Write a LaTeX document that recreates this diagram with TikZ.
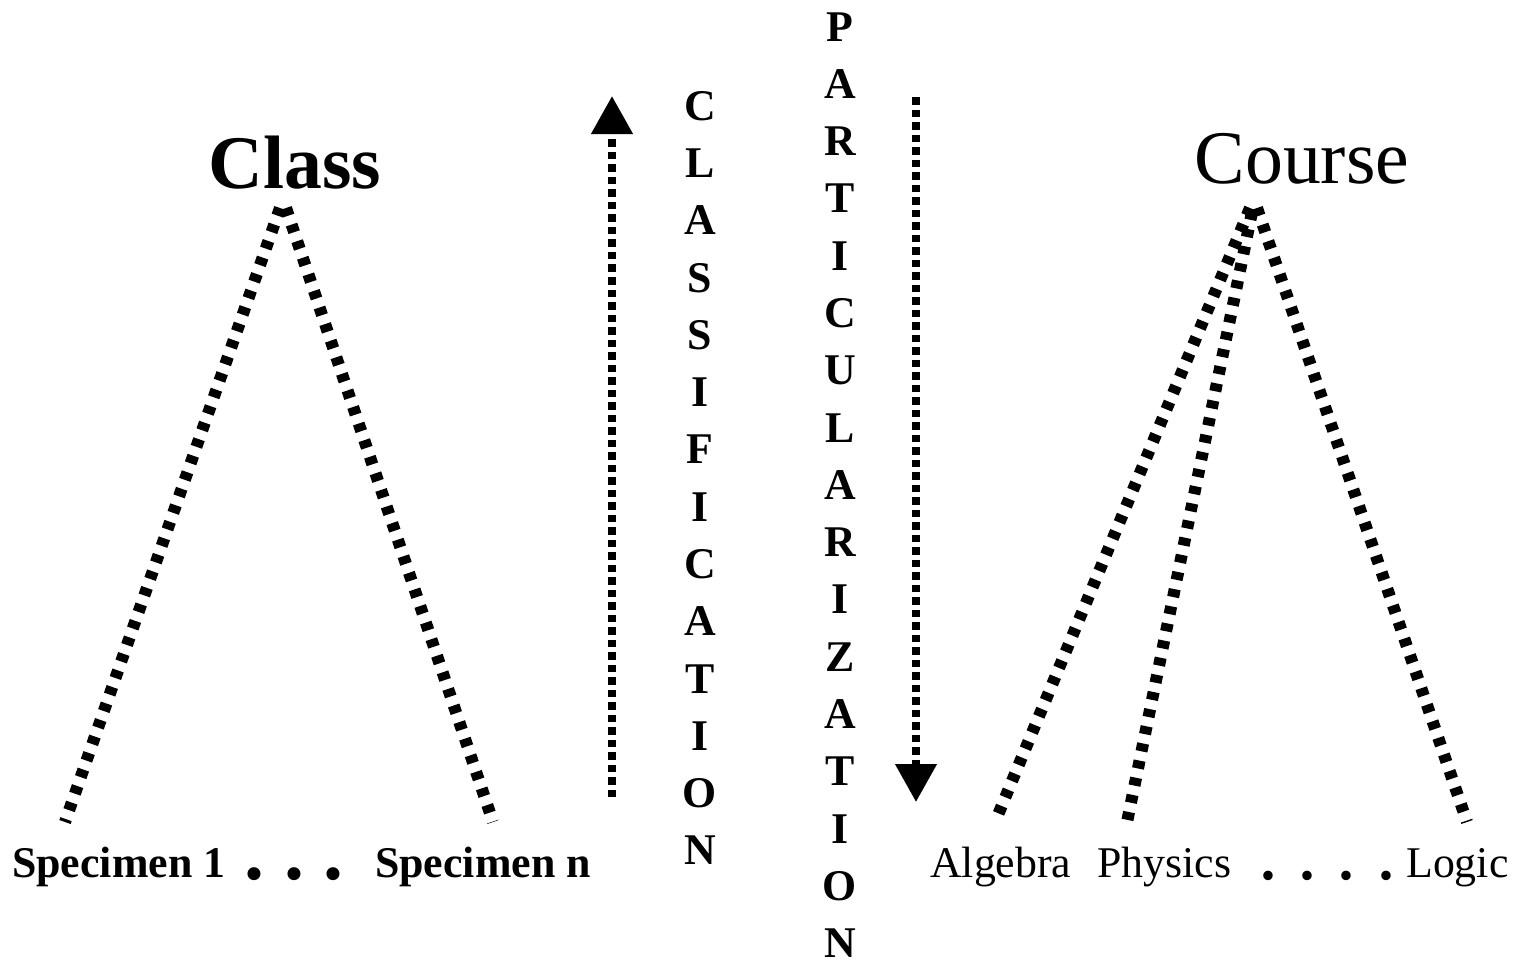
\documentclass[tikz,border=0pt]{standalone}
\usepackage{fontspec}
\setmainfont{Liberation Serif}
\usetikzlibrary{arrows.meta}
\begin{document}
\begin{tikzpicture}[x=1bp,y=-1bp,
  tri/.style={line width=12bp,dash pattern=on 8bp off 9.5bp},
  flow/.style={line width=7.5bp,dash pattern=on 7.5bp off 5bp,
    -{Triangle[width=40bp,length=38bp]}},
  title/.style={inner sep=0,anchor=base,font=\fontsize{76}{80}\selectfont},
  lbl/.style={inner sep=0,anchor=base west,font=\fontsize{44}{50}\selectfont},
  dotnode/.style={inner sep=0,anchor=base,font=\fontsize{80}{80}\selectfont},
  vword/.style={inner sep=0,anchor=center,align=center,
    font=\fontsize{44}{57.5}\selectfont\bfseries}]
\useasboundingbox (0,0) rectangle (1519,965);

% titles
\node[title,font=\fontsize{76}{80}\selectfont\bfseries] (class) at (295,188) {Class};
\node[title] (course) at (1302,183) {Course};

% bottom labels
\node[lbl,font=\fontsize{44}{50}\selectfont\bfseries] (sp1) at (12,877) {Specimen 1};
\node[lbl,font=\fontsize{44}{50}\selectfont\bfseries] (spn) at (375,877) {Specimen n};
\node[lbl] (alg) at (930,877) {Algebra};
\node[lbl] (phy) at (1097,877) {Physics};
\node[lbl] (log) at (1406,877) {Logic};

% dots
\foreach \x [count=\i] in {254,294,333}
  \node[dotnode,font=\fontsize{80}{80}\selectfont\bfseries] (ld\i) at (\x,879) {.};
\foreach \x [count=\i] in {1268,1307,1346,1386}
  \node[dotnode] (rd\i) at (\x,879) {.};

% vertical words
\node[vword] (classif) at (700,478) {C\\L\\A\\S\\S\\I\\F\\I\\C\\A\\T\\I\\O\\N};
\node[vword] (partic) at (840,485) {P\\A\\R\\T\\I\\C\\U\\L\\A\\R\\I\\Z\\A\\T\\I\\O\\N};

% triangle coordinates
\coordinate (la1) at (280,208);
\coordinate (la2) at (286,208);
\coordinate (le1) at (65,822);
\coordinate (le2) at (493,822);
\coordinate (ra1) at (1250,208);
\coordinate (ra2) at (1252,212);
\coordinate (ra3) at (1257,208);
\coordinate (re1) at (995,822);
\coordinate (re2) at (1127,822);
\coordinate (re3) at (1467,822);

\draw[tri] (la1) -- (le1);
\draw[tri] (la2) -- (le2);
\draw[tri] (ra1) -- (re1);
\draw[tri] (ra2) -- (re2);
\draw[tri] (ra3) -- (re3);

% arrows
\coordinate (cbot) at (612,797);
\coordinate (ctop) at (612,96);
\coordinate (ptop) at (916,97);
\coordinate (pbot) at (916,802);
\draw[flow] (cbot) -- (ctop);
\draw[flow] (ptop) -- (pbot);
\end{tikzpicture}
\end{document}
